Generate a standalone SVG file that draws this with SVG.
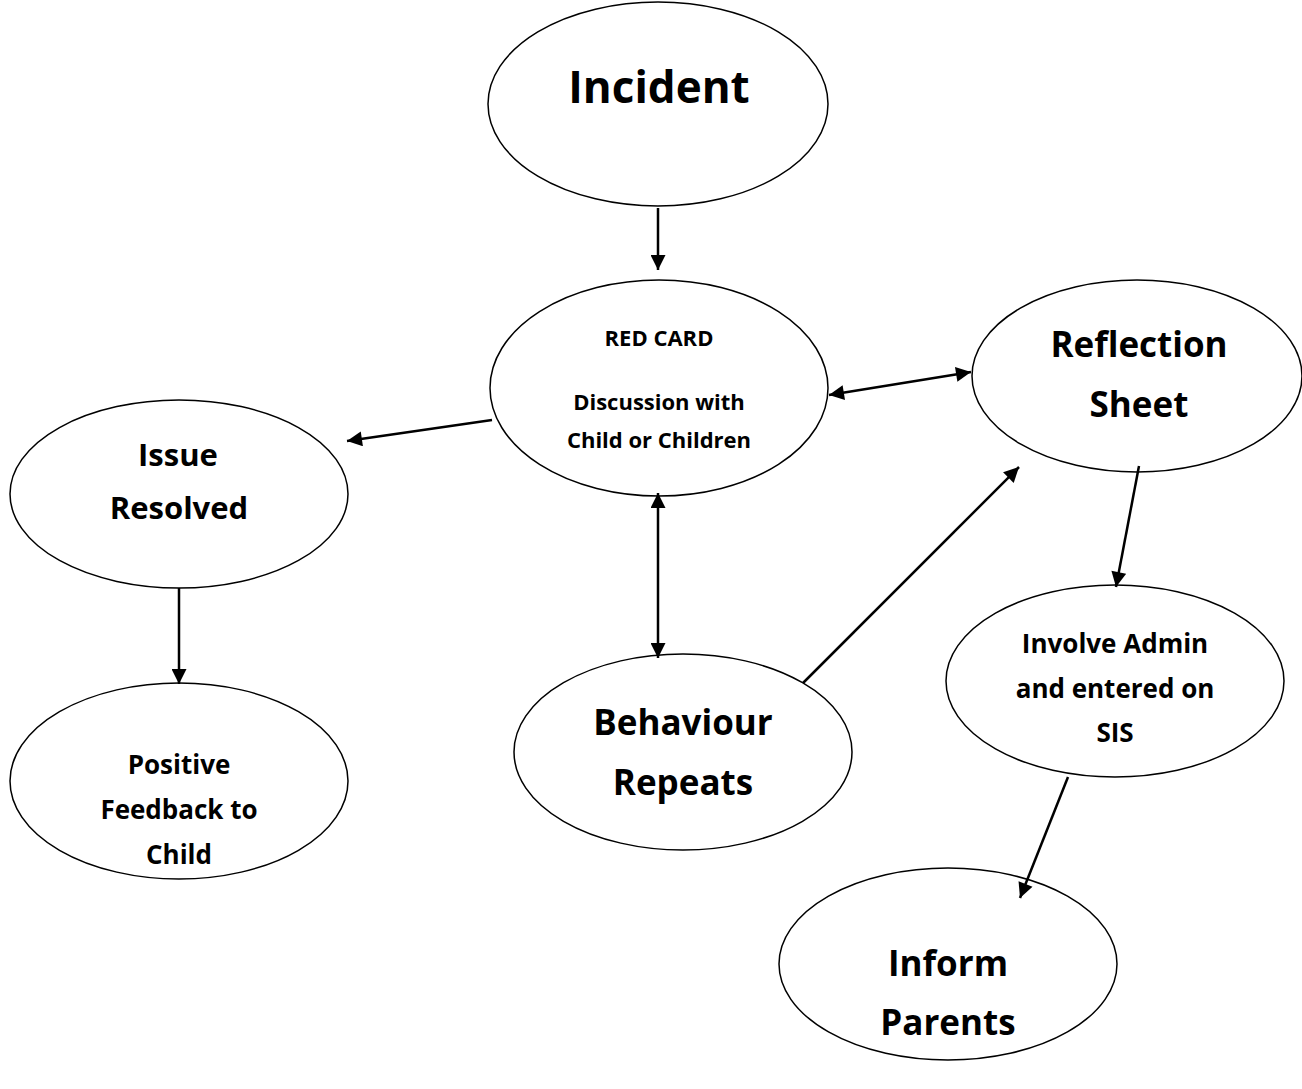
<svg xmlns="http://www.w3.org/2000/svg" width="1302" height="1089" viewBox="0 0 1302 1089">
<defs>
<marker id="ah" viewBox="0 0 10 10" refX="10" refY="5" markerWidth="6.5" markerHeight="6" orient="auto-start-reverse" markerUnits="strokeWidth">
<path d="M0,0 L10,5 L0,10 z" fill="#000"/>
</marker>
<style>
ellipse{fill:#fff;stroke:#000;stroke-width:1.5}
text{font-family:"Open Sans","Liberation Sans",sans-serif;font-weight:bold;text-anchor:middle;fill:#000}
.c line{stroke:#000;stroke-width:2.5}
</style>
</defs>
<rect width="1302" height="1089" fill="#fff"/>
<g id="incident"><ellipse cx="658" cy="104" rx="170" ry="102"/><text x="659" y="103" font-size="44">Incident</text></g>
<g id="redcard"><ellipse cx="659" cy="388" rx="169" ry="108"/>
<text x="659" y="346" font-size="22">RED CARD</text>
<text x="659" y="410" font-size="22">Discussion with</text>
<text x="659" y="448" font-size="22">Child or Children</text></g>
<g id="reflection"><ellipse cx="1137" cy="376" rx="165" ry="96"/>
<text x="1139" y="357" font-size="35">Reflection</text>
<text x="1139" y="417" font-size="35">Sheet</text></g>
<g id="issue"><ellipse cx="179" cy="494" rx="169" ry="94"/>
<text x="178" y="466" font-size="31">Issue</text>
<text x="179" y="519" font-size="31">Resolved</text></g>
<g id="positive"><ellipse cx="179" cy="781" rx="169" ry="98"/>
<text x="179" y="774" font-size="26">Positive</text>
<text x="179" y="819" font-size="26">Feedback to</text>
<text x="179" y="864" font-size="26">Child</text></g>
<g id="behaviour"><ellipse cx="683" cy="752" rx="169" ry="98"/>
<text x="683" y="735" font-size="35">Behaviour</text>
<text x="683" y="795" font-size="35">Repeats</text></g>
<g id="admin"><ellipse cx="1115" cy="681" rx="169" ry="96"/>
<text x="1115" y="653" font-size="26">Involve Admin</text>
<text x="1115" y="698" font-size="26">and entered on</text>
<text x="1115" y="742" font-size="26">SIS</text></g>
<g id="parents"><ellipse cx="948" cy="964" rx="169" ry="96"/>
<text x="948" y="976" font-size="35">Inform</text>
<text x="948" y="1035" font-size="35">Parents</text></g>
<g class="c" id="connectors">
<line x1="658" y1="208" x2="658" y2="270" marker-end="url(#ah)"/>
<line x1="829" y1="395" x2="971" y2="372" marker-start="url(#ah)" marker-end="url(#ah)"/>
<line x1="492" y1="420" x2="347" y2="441" marker-end="url(#ah)"/>
<line x1="658" y1="493" x2="658" y2="658" marker-start="url(#ah)" marker-end="url(#ah)"/>
<line x1="803" y1="683" x2="1019" y2="467" marker-end="url(#ah)"/>
<line x1="1139" y1="466" x2="1116" y2="587" marker-end="url(#ah)"/>
<line x1="179" y1="588" x2="179" y2="684" marker-end="url(#ah)"/>
<line x1="1068" y1="777" x2="1020" y2="898" marker-end="url(#ah)"/>
</g>
</svg>
